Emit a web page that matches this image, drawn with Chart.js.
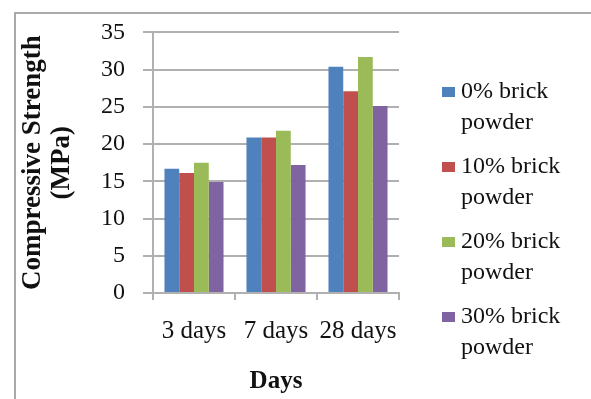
<!DOCTYPE html>
<html>
<head>
<meta charset="utf-8">
<script src="https://cdn.jsdelivr.net/npm/chart.js@4.4.1/dist/chart.umd.min.js"></script>
<style>
  html, body { margin: 0; padding: 0; background: #fff; }
  #wrap { position: relative; width: 591px; height: 399px; overflow: hidden; }
  #frame { position: absolute; left: 14px; top: 12px; width: 620px; height: 420px;
           border-left: 2px solid #a9a9a9; border-top: 2px solid #a9a9a9; }
  canvas { position: absolute; left: 0; top: 0; }
</style>
</head>
<body>
<div id="wrap">
  <div id="frame"></div>
  <canvas id="chart" width="591" height="399"></canvas>
</div>
<script>
// Compressive strength (MPa) by curing age and brick powder replacement
const categories = ['3 days', '7 days', '28 days'];
const seriesNames = ['0% brick powder', '10% brick powder', '20% brick powder', '30% brick powder'];
const brick0 = [16.7, 20.9, 30.4];
const brick10 = [16.1, 20.9, 27.1];
const brick20 = [17.5, 21.8, 31.7];
const brick30 = [14.9, 17.2, 25.1];
const yMin = 0;
const yMax = 35;
const yStep = 5;

const seriesValues = [brick0, brick10, brick20, brick30];
const seriesColors = ['#4F81BD', '#C0504D', '#9BBB59', '#8064A2'];

const gridColor = '#b0b0b0';
const textColor = '#111111';
const serif = '"Liberation Serif", "Times New Roman", serif';

// Legend drawn to the right of the plot, each label wrapped onto two lines
const sideLegend = {
  id: 'sideLegend',
  afterDraw(chart) {
    const ctx = chart.ctx;
    const x0 = chart.chartArea.right + 43;
    ctx.save();
    ctx.font = '24px ' + serif;
    ctx.textBaseline = 'middle';
    ctx.textAlign = 'left';
    chart.data.datasets.forEach((ds, i) => {
      const y = 92 + i * 75;
      ctx.fillStyle = ds.backgroundColor;
      ctx.fillRect(x0, y - 5, 13, 10);
      const words = ds.label.split(' ');
      const line1 = words.slice(0, -1).join(' ');
      const line2 = words[words.length - 1];
      ctx.fillStyle = textColor;
      ctx.fillText(line1, x0 + 19, y);
      ctx.fillText(line2, x0 + 19, y + 31);
    });
    ctx.restore();
  }
};

new Chart(document.getElementById('chart'), {
  type: 'bar',
  data: {
    labels: categories,
    datasets: seriesNames.map((name, i) => ({
      label: name,
      data: seriesValues[i],
      backgroundColor: seriesColors[i],
      borderWidth: 0,
      categoryPercentage: 0.72,
      barPercentage: 1.0
    }))
  },
  options: {
    responsive: false,
    animation: false,
    layout: { padding: { left: 0, top: 30, right: 192, bottom: 0 } },
    plugins: {
      legend: { display: false },
      tooltip: { enabled: false }
    },
    scales: {
      x: {
        grid: {
          offset: true,
          drawOnChartArea: false,
          drawTicks: true,
          tickLength: 7,
          color: gridColor,
          lineWidth: 2
        },
        border: { display: true, color: gridColor, width: 2 },
        ticks: {
          color: textColor,
          padding: 16,
          maxRotation: 0,
          minRotation: 0,
          autoSkip: false,
          font: { family: serif, size: 25 }
        },
        title: {
          display: true,
          text: 'Days',
          color: textColor,
          padding: { top: 4, bottom: 2 },
          font: { family: serif, size: 25, weight: 'bold' }
        },
        afterFit(scale) { scale.height = 106; }
      },
      y: {
        min: yMin,
        max: yMax,
        grid: {
          color: gridColor,
          lineWidth: 2,
          drawTicks: true,
          tickLength: 10
        },
        border: { display: true, color: gridColor, width: 2 },
        ticks: {
          stepSize: yStep,
          color: textColor,
          padding: 18,
          font: { family: serif, size: 24 }
        },
        title: {
          display: true,
          text: ['Compressive Strength', '(MPa)'],
          color: textColor,
          padding: { top: 19, bottom: 0 },
          font: { family: serif, size: 27, weight: 'bold', lineHeight: '29px' }
        },
        afterFit(scale) { scale.width = 153; }
      }
    }
  },
  plugins: [sideLegend]
});
</script>
</body>
</html>
